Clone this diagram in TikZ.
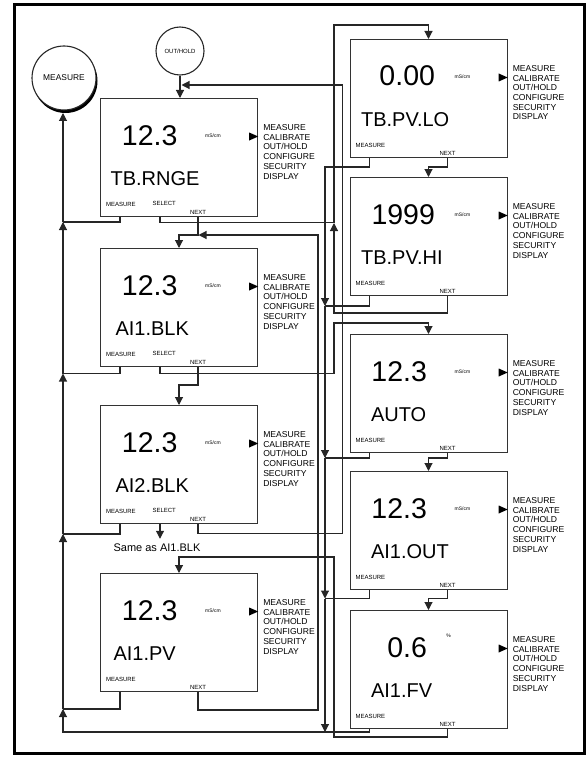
\documentclass[tikz,border=0pt]{standalone}
\usepackage{fontspec}
\setmainfont{Liberation Sans}
\usetikzlibrary{arrows.meta,calc}
\newcommand\screenbox[8]{%
  \node[screen] (#1) at (#2,#3) {};
  \node[bignum] (#1-num) at ($(#1.north west)+(#5,47)$) {#4};
  \node[unitlbl] (#1-unit) at ($(#1.north west)+(113,38)$) {#6};
  \node[lbl] (#1-lbl) at ($(#1.north west)+(#8,87.5)$) {#7};
  \node[tiny, anchor=west] (#1-mtxt) at ($(#1.north west)+(5.5,106)$) {MEASURE};
  \node[tiny, fill=white, inner sep=1pt] (#1-ntxt) at ($(#1.south west)+(98,-5)$) {NEXT};
  \fill[black] ($(#1.north east)+(-9,34.5)$) -- ++(9,4) -- ++(-9,4) -- cycle;
  \foreach \t [count=\i from 0] in {MEASURE,CALIBRATE,OUT/HOLD,CONFIGURE,SECURITY,DISPLAY}
    \node[menu] (#1-menu\i) at ($(#1.north east)+(4.5,32.5+9.7*\i)$) {\t};
  \coordinate (#1-m) at ($(#1.south west)+(20,0)$);
  \coordinate (#1-s) at ($(#1.south west)+(60,0)$);
  \coordinate (#1-n) at ($(#1.south west)+(98,0)$);
  \coordinate (#1-in) at ($(#1.north west)+(79,0)$);
}
\begin{document}
\begin{tikzpicture}[x=1pt,y=-1pt,
  line width=1.1pt, draw=black!85,
  screen/.style={draw=black!80, line width=1.2pt, minimum width=157pt, minimum height=118pt, anchor=north west, inner sep=0pt},
  arr/.style={-{Triangle[length=8pt,width=8pt]}},
  bignum/.style={font=\fontsize{28.5}{28}\selectfont, inner sep=0pt, anchor=base east},
  lbl/.style={font=\fontsize{20}{20}\selectfont, inner sep=0pt, anchor=base west},
  menu/.style={font=\fontsize{8.6}{9}\selectfont, inner sep=0pt, anchor=base west},
  tiny/.style={font=\fontsize{6}{6}\selectfont, inner sep=0pt},
  unitlbl/.style={font=\fontsize{5}{5}\selectfont, inner sep=0pt},
]
\useasboundingbox (0,0) rectangle (588,757);
\draw[line width=3pt, black] (14,5) rectangle (584,753);

% circles
\node[circle, draw, minimum size=48pt, inner sep=0pt, font=\fontsize{6}{6}\selectfont] (oh) at (180,51) {OUT/HOLD};
\fill[black] (65.5,81) circle (32pt);
\node[circle, draw, fill=white, minimum size=64pt, inner sep=0pt, font=\fontsize{8.4}{9}\selectfont] (meas) at (64,78) {MEASURE};

% left column
\screenbox{tb}{100}{98}{12.3}{78}{mS/cm}{TB.RNGE}{10}
\screenbox{ai1}{100}{248}{12.3}{78}{mS/cm}{AI1.BLK}{15}
\screenbox{ai2}{100}{405}{12.3}{78}{mS/cm}{AI2.BLK}{15}
\screenbox{pv}{100}{573}{12.3}{78}{mS/cm}{AI1.PV}{13}
\node[tiny, anchor=west] (tb-stxt) at ($(tb.north west)+(52,105)$) {SELECT};
\node[tiny, anchor=west] (ai1-stxt) at ($(ai1.north west)+(52,105)$) {SELECT};
\node[tiny, anchor=west] (ai2-stxt) at ($(ai2.north west)+(52,105)$) {SELECT};

% right column
\screenbox{pvlo}{349.5}{39}{0.00}{86}{mS/cm}{TB.PV.LO}{11}
\screenbox{pvhi}{349.5}{177}{1999}{86}{mS/cm}{TB.PV.HI}{11}
\screenbox{auto}{349.5}{334}{12.3}{78}{mS/cm}{AUTO}{21}
\screenbox{out}{349.5}{471}{12.3}{78}{mS/cm}{AI1.OUT}{21}
\screenbox{fv}{349.5}{610}{0.6}{78}{}{AI1.FV}{21}
\node[unitlbl] (fv-pct) at ($(fv.north west)+(99,26)$) {\%};

\node[font=\fontsize{11}{11}\selectfont, inner sep=4pt, anchor=base] (same) at (157,551) {Same as AI1.BLK};

% OUT/HOLD and returns to TB.RNGE
\draw[arr] (oh.south) -- (oh.south |- tb.north);
\draw[arr] (ai2-n) -- ++(0,9) -| (342.5,85) -- (181.5,85);

% left column flow
\draw (tb-m) |- (63,222);
\draw[arr] (tb-s) |- (334,222.5) |- (428.5,25) -- (pvlo-in);
\draw[arr] (tb-n) |- (179,235) -- (ai1-in);
\draw[arr] (pv-n) |- (318,710) -- (318,235) -- (198.5,235);
\draw (ai1-m) |- (63,373.5);
\draw[arr] (ai1-s) |- (334,373.5) |- (428.5,323) -- (auto-in);
\draw[arr] (ai1-n) |- (179,385) -- (ai2-in);
\draw (ai2-m) |- (63,534);
\draw[arr] (ai2-s) -- (ai2-s |- same.north);
\draw[arr] (fv-n) |- (334,737) |- (179,557) -- (pv-in);
\draw (pv-m) |- (63,709);

% right column flow
\draw[arr] (pvlo-n) |- (428.5,167) -- (pvhi-in);
\draw[arr] (pvhi-n) |- (334,313) -- (334,223);
\draw[arr] (auto-n) |- (428.5,458) -- (out-in);
\draw[arr] (out-n) |- (428.5,598.5) -- (fv-in);

% MEASURE bus
\draw[arr] (pvlo-m) |- (325,167) -- (325,306);
\draw (pvhi-m) |- (325,306);
\draw[arr] (325,306) -- (325,458);
\draw (auto-m) |- (325,458);
\draw[arr] (325,458) -- (325,598.5);
\draw (out-m) |- (325,598.5);
\draw[arr] (325,598.5) -- (325,732);
\draw (fv-m) |- (325,732);
\draw[arr] (325,732) -| (63,709);
\draw[arr] (63,709) -- (63,534);
\draw[arr] (63,534) -- (63,373.5);
\draw[arr] (63,373.5) -- (63,222);
\draw[arr] (63,222) -- (63,113);
\end{tikzpicture}
\end{document}
